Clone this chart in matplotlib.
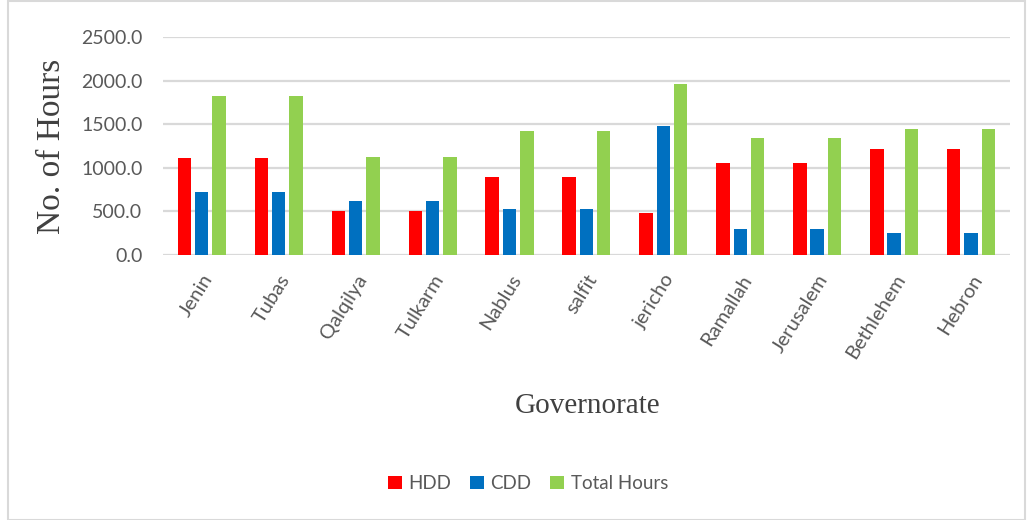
import matplotlib
matplotlib.use("Agg")
import matplotlib.pyplot as plt
import numpy as np
from matplotlib.patches import Rectangle

governorates = ["Jenin", "Tubas", "Qalqilya", "Tulkarm", "Nablus", "salfit",
                "jericho", "Ramallah", "Jerusalem", "Bethlehem", "Hebron"]
hdd = [1110, 1110, 502, 502, 892, 892, 482, 1060, 1060, 1213, 1213]
cdd = [720, 720, 623, 623, 528, 528, 1481, 295, 295, 249, 249]
total_hours = [1825, 1825, 1125, 1125, 1420, 1420, 1967, 1343, 1343, 1450, 1450]
yticks = [0, 500, 1000, 1500, 2000, 2500]

sans = ["Lato", "DejaVu Sans"]

fig = plt.figure(figsize=(10.27, 5.2), dpi=100)
fig.patches.append(Rectangle((0.008, 0.0), 0.99, 0.998, transform=fig.transFigure,
                             fill=False, edgecolor="#d9d9d9", linewidth=1.5))
ax = fig.add_axes([0.159, 0.510, 0.824, 0.418])

x = np.arange(len(governorates))
off = 0.225
w = 0.175
ax.bar(x - off, hdd, w, color="#ff0000", label="HDD", zorder=3)
ax.bar(x, cdd, w, color="#0070c0", label="CDD", zorder=3)
ax.bar(x + off, total_hours, w, color="#92d050", label="Total Hours", zorder=3)

ax.set_xlim(-0.5, len(governorates) - 0.5)
ax.set_ylim(0, 2500)
ax.set_yticks(yticks)
ax.set_yticklabels([f"{v:.1f}" for v in yticks], fontsize=14, color="#595959",
                   family=sans)
ax.yaxis.grid(True, color="#d9d9d9", linewidth=1.6, zorder=0)
ax.set_axisbelow(True)
for s in ax.spines.values():
    s.set_visible(False)
ax.tick_params(axis="both", length=0)
ax.tick_params(axis="y", pad=15)
ax.set_xticks(x)
ax.set_xticklabels(governorates, rotation=58, ha="right", rotation_mode="anchor",
                   fontsize=14.5, color="#595959", family=sans)
ax.tick_params(axis="x", pad=12)

ax.set_ylabel("No. of Hours", fontsize=24, color="#404040",
              family=["Liberation Serif"], labelpad=10)
fig.text(0.572, 0.22, "Governorate", fontsize=21, color="#404040",
         family=["Liberation Serif"], ha="center", va="center")

fig.legend(loc="center", bbox_to_anchor=(0.514, 0.07), ncol=3, frameon=False,
           handlelength=0.75, handleheight=0.75, handletextpad=0.35,
           columnspacing=1.0, prop={"family": sans, "size": 13.5},
           labelcolor="#595959")

fig.savefig("out.png", dpi=100)
